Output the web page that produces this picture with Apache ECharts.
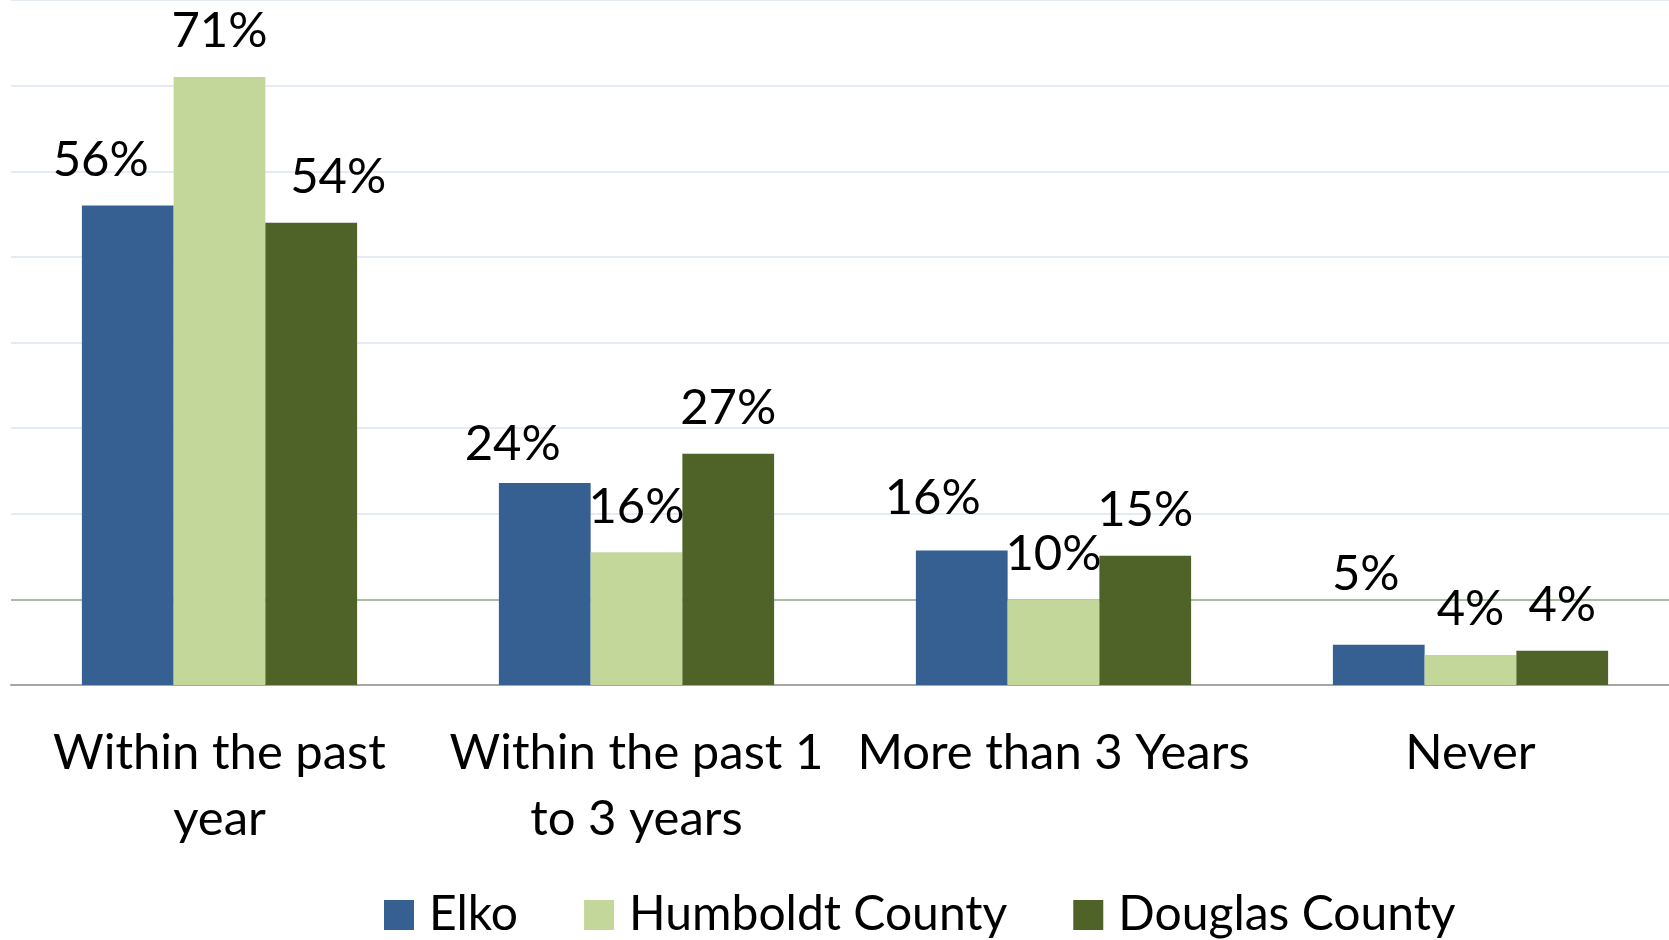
<!DOCTYPE html>
<html>
<head>
<meta charset="utf-8">
<script src="https://cdn.jsdelivr.net/npm/echarts@6/dist/echarts.min.js"></script>
<style>
  html, body { margin: 0; padding: 0; background: #ffffff; overflow: hidden; }
  #chart { width: 1690px; height: 940px; }
</style>
</head>
<body>
<div id="chart"></div>
<script>
// data
const categories = ["Within the past\nyear", "Within the past 1\nto 3 years", "More than 3 Years", "Never"];
const seriesNames = ["Elko", "Humboldt County", "Douglas County"];
const elko = [56, 23.6, 15.7, 4.7];
const humboldt = [71, 15.5, 10, 3.5];
const douglas = [54, 27, 15.1, 4];
const yTicks = [0, 10, 20, 30, 40, 50, 60, 70, 80];

// label nudges [dx, dy] taken from where the original placed its labels
const elkoNudge = [[-27, 0], [-32, 7], [-29, -7], [-13, -25]];
const humboldtNudge = [[0, 0], [0, 0], [0, 0], [0, 0]];
const douglasNudge = [[27, 0], [0, 0], [0, 0], [0, 0]];

const colors = ["#366092", "#c4d79b", "#4f6228"];
const font = "Lato, 'Noto Sans', sans-serif";

const chart = echarts.init(document.getElementById("chart"));

function makeSeries(name, values, nudge, color) {
  return {
    name: name,
    type: "bar",
    barGap: "0%",
    barCategoryGap: "34%",
    itemStyle: { color: color },
    label: {
      show: true,
      position: "top",
      distance: 21,
      fontFamily: font,
      fontSize: 49,
      color: "#000000",
      formatter: (p) => Math.round(p.value) + "%",
    },
    data: values.map((v, i) => ({
      value: v,
      label: { offset: nudge[i] },
    })),
  };
}

const splitColors = yTicks.map((t) => (t === 10 ? "#a8bea3" : "#e4eaf8"));

chart.setOption({
  animation: false,
  backgroundColor: "#ffffff",
  textStyle: { fontFamily: font },
  grid: {
    left: 11,
    width: 1668,
    top: -1,
    height: 686,
    containLabel: false,
  },
  legend: {
    left: 384,
    top: 891,
    padding: 0,
    itemWidth: 30,
    itemHeight: 30,
    itemGap: 66,
    icon: "rect",
    textStyle: {
      fontFamily: font,
      fontSize: 48,
      color: "#000000",
      padding: [0, 0, 0, 10],
    },
    data: seriesNames,
  },
  xAxis: {
    type: "category",
    data: categories,
    axisTick: { show: false },
    axisLine: { lineStyle: { color: "#a6a6a6", width: 2 } },
    axisLabel: {
      interval: 0,
      margin: 35,
      fontFamily: font,
      fontSize: 49,
      lineHeight: 66,
      color: "#000000",
    },
  },
  yAxis: {
    type: "value",
    min: 0,
    max: 80,
    interval: 10,
    axisLabel: { show: false },
    axisLine: { show: false },
    axisTick: { show: false },
    splitLine: {
      lineStyle: { color: splitColors, width: 2 },
    },
  },
  series: [
    makeSeries(seriesNames[0], elko, elkoNudge, colors[0]),
    makeSeries(seriesNames[1], humboldt, humboldtNudge, colors[1]),
    makeSeries(seriesNames[2], douglas, douglasNudge, colors[2]),
  ],
});
</script>
</body>
</html>
